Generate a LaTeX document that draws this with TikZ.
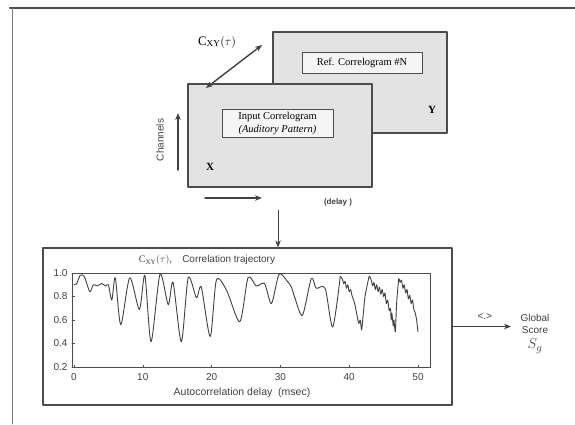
\documentclass[tikz,border=0pt]{standalone}
\usepackage{fontspec}
\setmainfont{Liberation Serif}
\setsansfont{Liberation Sans}
\usetikzlibrary{arrows.meta}

\begin{document}
\begin{tikzpicture}[x=1pt,y=-1pt,>={Stealth[length=7pt,width=5.5pt]}, line join=round, line cap=round]
	\def\ink{black!75}
	\def\cxy{$\mathrm{C}_{\mathrm{XY}}(\tau)$}
	\tikzset{gram/.style={draw=black!70,line width=1.8pt,fill=gray!22},
		tag/.style={draw=black!70,line width=0.8pt,fill=gray!8,inner sep=3pt,font=\fontsize{10.5}{12.5}\selectfont},
		lab/.style={font=\sffamily\fontsize{10}{12}\selectfont,text=\ink},
		arr/.style={->,draw=\ink,line width=1.4pt}}
	\useasboundingbox (0,0) rectangle (575,424);
	% page frame
	\draw[black!70,line width=2pt] (10,8) -- (575,8);
	\draw[black!50,line width=0.6pt] (12,8) -- (12,424);
	% the two correlograms
	\node[gram,minimum width=174pt,minimum height=101pt] (refgram) at (360,82.5) {};
	\node[gram,minimum width=184pt,minimum height=103pt] (ingram) at (280,135.5) {};
	\node[tag,minimum width=120pt,minimum height=21pt] (reftag) at (362,62.5) {Ref. Correlogram \#N};
	\node[tag,align=center,minimum width=111pt] (intag) at (277.5,123.5) {Input Correlogram\\\textit{(Auditory Pattern)}};
	\node[font=\bfseries\fontsize{11}{13}\selectfont] (xname) at (210,167) {X};
	\node[font=\bfseries\fontsize{11}{13}\selectfont] (yname) at (432,110) {Y};
	\node[font=\fontsize{13}{15}\selectfont] (cxy) at (217,42) {\cxy};
	\coordinate (cxya) at (206,88); \coordinate (cxyb) at (262,45);
	\draw[arr,<->] (cxya) -- (cxyb);
	\node[lab,rotate=90] (chan) at (160,140) {Channels};
	\coordinate (chanlo) at (178,170); \coordinate (chanhi) at (178,113);
	\draw[arr] (chanlo) -- (chanhi);
	\coordinate (dlo) at (205,198); \coordinate (dhi) at (262,198);
	\draw[arr] (dlo) -- (dhi);
	\node[font=\sffamily\bfseries\fontsize{8}{10}\selectfont,text=\ink] (delay) at (338,202) {(delay )};
	% correlation trajectory
	\node[draw=black!70,line width=1.1pt,minimum width=409pt,minimum height=157pt] (trajbox) at (247.5,326.5) {};
	\coordinate (drop) at (278,210);
	\draw[->,\ink,line width=0.8pt] (drop) -- (drop |- trajbox.north);
	\node[lab] (trajtitle) at (207,260) {\cxy,\quad Correlation trajectory};
	\node[lab,font=\sffamily\fontsize{10.5}{12}\selectfont] (trajxlab) at (242,393) {Autocorrelation delay\ \ (msec)};
	\begin{scope}[shift={(74,390.5)},x=6.88pt,y=117.5pt]
		\draw[black!70,line width=0.7pt] (-0.3,0.2) rectangle (51.8,1.0);
		\foreach \t in {0,10,...,50} {
			\draw[black!70] (\t,0.2) -- (\t,0.215);
			\node[lab,below=2.5pt] (xt\t) at (\t,0.2) {\t};
		}
		\foreach \s [count=\i] in {0.2,0.4,0.6,0.8,1.0} {
			\draw[black!70] (-0.3,\s) -- (0.1,\s);
			\node[lab,left=1pt] (yt\i) at (-0.3,\s) {\s};
		}
		\draw[\ink,line width=0.9pt] plot[smooth,tension=0.45] coordinates {(0,0.9) (0.4,0.91) (0.9,0.98) (1.5,0.97) (2.3,0.84) (2.8,0.9) (3.4,0.89) (4,0.91) (4.6,0.89) (5,0.9) (5.5,0.77) (6,0.96) (6.8,0.56) (8.1,0.96) (9.5,0.69) (10.3,0.98) (11.2,0.415) (12.5,0.99) (13.7,0.73) (14.4,0.92) (15.6,0.415) (16.6,0.96) (17.8,0.79) (18.5,0.88) (19.8,0.46) (20.7,0.94) (22.2,0.85) (24.1,0.585) (25.3,0.96) (26.5,0.89) (27.7,0.91) (28.7,0.74) (29.8,0.99) (31,0.93) (31.6,0.88) (32.1,0.79) (33.2,0.64) (34.5,0.955) (35.2,0.87) (36.5,0.87) (37.6,0.54) (38.7,0.97)};
		% noisy tail
		\draw[\ink,line width=0.9pt] plot[smooth,tension=0.3] coordinates {(38.7,0.97) (39.0,0.95) (39.2,0.91) (39.4,0.93) (39.6,0.87) (39.8,0.9) (40.0,0.84) (40.2,0.86) (40.4,0.81) (40.8,0.74) (41.2,0.62) (41.4,0.57) (41.6,0.6) (41.8,0.515) (41.9,0.56) (42.3,0.8) (42.9,0.97) (43.2,0.94) (43.4,0.89) (43.6,0.92) (43.8,0.86) (44.0,0.9) (44.2,0.84) (44.4,0.88) (44.6,0.82) (44.8,0.86) (45.0,0.8) (45.2,0.83) (45.4,0.74) (45.6,0.77) (45.8,0.68) (46.0,0.7) (46.1,0.6) (46.2,0.66) (46.4,0.55) (46.5,0.6) (46.7,0.5) (46.9,0.75) (47.2,0.95) (47.4,0.92) (47.6,0.94) (47.8,0.87) (48.0,0.9) (48.2,0.83) (48.4,0.86) (48.6,0.78) (48.8,0.81) (49.0,0.74) (49.2,0.77) (49.4,0.69) (49.6,0.66) (49.8,0.6) (50,0.5)};
	\end{scope}
	% global score
	\node[lab,align=center] (score) at (535,334) {Global\\Score\\[3pt]{\fontsize{15}{15}\selectfont$S_g$}};
	\draw[->,\ink,line width=0.8pt,shorten >=6pt] (trajbox.east) -- (trajbox.east -| score.west) node[lab,midway,above=3pt] (dot) {<.>};
\end{tikzpicture}
\end{document}
